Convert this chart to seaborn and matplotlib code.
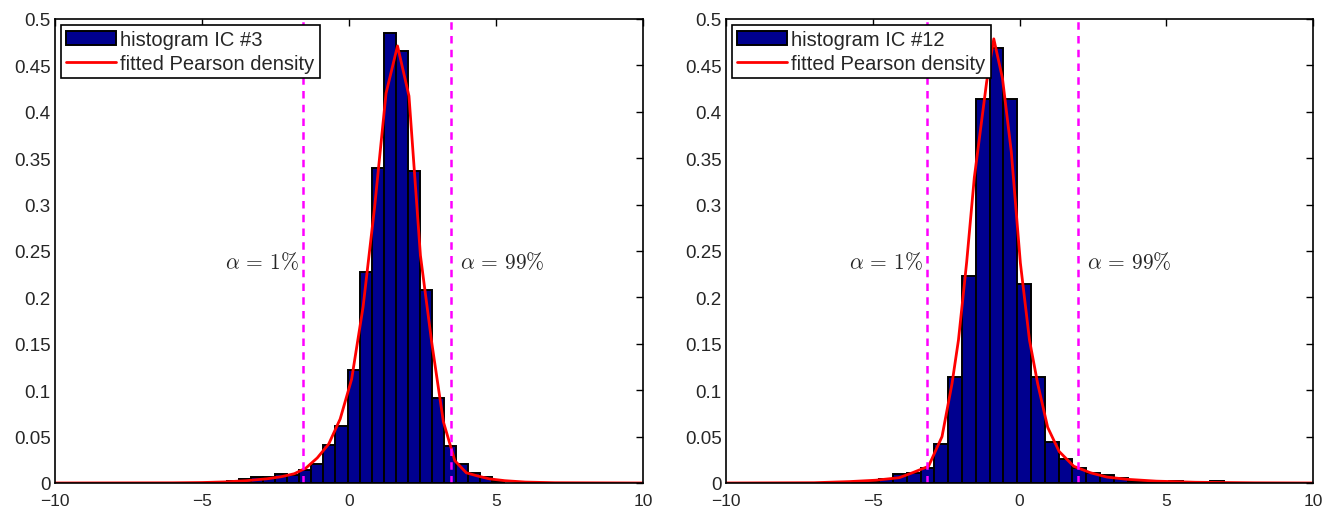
import numpy as np
import pandas as pd
import matplotlib
matplotlib.use("Agg")
import matplotlib.pyplot as plt
from matplotlib.ticker import FormatStrFormatter
import seaborn as sns

# --- data ---
# IC #3 histogram (bin edges and bar heights)
edges3 = [-4.97, -4.56, -4.15, -3.74, -3.33, -2.92, -2.51, -2.10, -1.69, -1.28,
          -0.87, -0.46, -0.05, 0.36, 0.77, 1.18, 1.59, 2.00, 2.41, 2.82,
          3.23, 3.64, 4.05, 4.46, 4.87, 5.28]
heights3 = [0.0005, 0.001, 0.002, 0.004, 0.006, 0.006, 0.0095, 0.009, 0.0145, 0.021,
            0.0414, 0.0617, 0.1217, 0.227, 0.339, 0.485, 0.465, 0.3365, 0.2085, 0.0913,
            0.0396, 0.020, 0.0104, 0.006, 0.002]
# fitted Pearson density IC #3
fit3_x = [-10, -6, -5, -4.2, -3.5, -2.8, -2.3, -1.86, -1.47, -1.08, -0.69, -0.30,
          0.09, 0.48, 0.87, 1.26, 1.65, 2.04, 2.43, 2.82, 3.21, 3.60, 3.99, 4.38,
          4.77, 5.3, 6.0, 7.0, 10]
fit3_y = [0, 0.0002, 0.0005, 0.0012, 0.0025, 0.0045, 0.0068, 0.010, 0.016, 0.027,
          0.042, 0.069, 0.112, 0.19, 0.297, 0.42, 0.471, 0.417, 0.245, 0.15, 0.066,
          0.024, 0.011, 0.0075, 0.0045, 0.0025, 0.001, 0.0003, 0]
quant3 = [-1.57, 3.46]

# IC #12 histogram
edges12 = [-5.72, -5.25, -4.78, -4.31, -3.84, -3.37, -2.90, -2.43, -1.96, -1.49,
           -1.02, -0.55, -0.08, 0.39, 0.86, 1.33, 1.80, 2.27, 2.74, 3.21,
           3.68, 4.15, 4.62, 5.09, 5.56, 6.03, 6.50, 6.97]
heights12 = [0.0015, 0.002, 0.004, 0.0093, 0.011, 0.0164, 0.0425, 0.1146, 0.2234, 0.4143,
             0.4686, 0.4143, 0.2145, 0.1146, 0.044, 0.0254, 0.0164, 0.011, 0.0082, 0.005,
             0.002, 0.001, 0.001, 0.0025, 0, 0, 0.0025]
fit12_x = [-10, -7, -5.8, -4.9, -4.1, -3.65, -3.1, -2.64, -2.30, -2.08, -1.80, -1.54,
           -1.12, -0.876, -0.58, -0.28, 0.03, 0.34, 0.62, 0.96, 1.35, 1.85, 2.42,
           2.98, 3.65, 4.66, 6, 8, 10]
fit12_y = [0, 0.0003, 0.0015, 0.003, 0.0057, 0.011, 0.018, 0.050, 0.107, 0.154, 0.238,
           0.329, 0.432, 0.4786, 0.436, 0.357, 0.237, 0.154, 0.107, 0.06, 0.034, 0.018,
           0.011, 0.0064, 0.004, 0.002, 0.0008, 0.0002, 0]
quant12 = [-3.14, 1.99]

labels = ["histogram IC #3", "histogram IC #12"]
alpha_labels = [r"$\alpha\,=\,1\%$", r"$\alpha\,=\,99\%$"]

sns.set_style("white")
plt.rcParams["font.family"] = ["Liberation Sans", "DejaVu Sans"]
plt.rcParams["mathtext.fontset"] = "cm"
plt.rcParams["xtick.direction"] = "in"
plt.rcParams["ytick.direction"] = "in"

fig = plt.figure(figsize=(13.22, 5.10), dpi=100)
W, H = 1322, 510
ax1 = fig.add_axes([55 / W, (H - 484) / H, 588 / W, 464 / H])
ax2 = fig.add_axes([726 / W, (H - 484) / H, 587 / W, 464 / H])

panels = [
    (ax1, edges3, heights3, fit3_x, fit3_y, quant3, labels[0]),
    (ax2, edges12, heights12, fit12_x, fit12_y, quant12, labels[1]),
]

for ax, edges, heights, fx, fy, q, lab in panels:
    centers = [(edges[i] + edges[i + 1]) / 2 for i in range(len(heights))]
    df = pd.DataFrame({"x": centers, "h": heights})
    sns.histplot(data=df, x="x", weights="h", bins=edges, stat="count",
                 color="#00008F", alpha=1, edgecolor="black", linewidth=1.4, ax=ax)
    sns.lineplot(x=fx, y=fy, sort=False, estimator=None, color="red", lw=2, ax=ax)
    for xv in q:
        ax.axvline(xv, color="magenta", ls=(0, (3, 2.5)), lw=1.8)
    ax.text(q[0] - 0.15, 0.238, alpha_labels[0], ha="right", va="center", fontsize=15.5)
    ax.text(q[1] + 0.3, 0.238, alpha_labels[1], ha="left", va="center", fontsize=15.5)

    ax.set_xlim(-10, 10)
    ax.set_ylim(0, 0.5)
    ax.set_xticks([-10, -5, 0, 5, 10])
    ax.set_yticks(np.round(np.arange(0, 0.51, 0.05), 2))
    ax.yaxis.set_major_formatter(FormatStrFormatter("%g"))
    ax.set_xlabel("")
    ax.set_ylabel("")
    ax.tick_params(axis="both", which="both", top=True, right=True, length=5,
                   width=1, labelsize=13.5, color="black", pad=3)
    ax.tick_params(axis="x", pad=7.5, labelsize=12.5)
    for s in ax.spines.values():
        s.set_color("black")
        s.set_linewidth(1.2)

    bar = ax.patches[0]
    line = ax.lines[0]
    leg = ax.legend([bar, line], [lab, "fitted Pearson density"], loc="upper left",
                    fontsize=14.5, frameon=True, fancybox=False, edgecolor="black",
                    framealpha=1, borderpad=0.25, handlelength=2.5, handletextpad=0.2,
                    labelspacing=0.25, borderaxespad=0.3)
    leg.get_frame().set_linewidth(1.2)

fig.savefig("out.png", dpi=100)
